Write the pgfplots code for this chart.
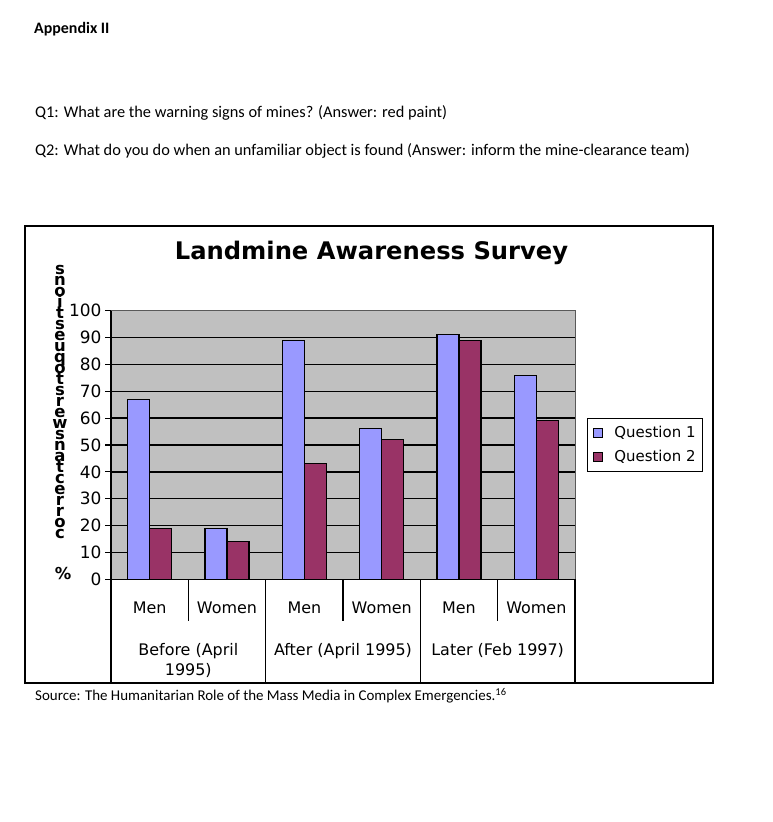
\documentclass[border=0pt]{standalone}
\usepackage{fontspec}
\setmainfont{Carlito}
\newfontfamily\verd{DejaVu Sans}
\usepackage{pgfplots}
\pgfplotsset{compat=1.18}
\definecolor{qone}{HTML}{9999FF}
\definecolor{qtwo}{HTML}{993366}
\definecolor{plotgray}{HTML}{C0C0C0}
\begin{document}
\begin{tikzpicture}[x=1bp,y=1bp]
\useasboundingbox (0,0) rectangle (773,822);
\fill[white] (0,0) rectangle (773,822);
\node[anchor=base west, inner sep=0, font=\fontsize{16}{18}\selectfont\bfseries] at (34,788.7) {Appendix II};
\node[anchor=base west, inner sep=0, font=\fontsize{16.4}{19}\selectfont] at (35,704.5) {Q1: What are the warning signs of mines? (Answer: red paint)};
\node[anchor=base west, inner sep=0, font=\fontsize{16.4}{19}\selectfont] at (35,666) {Q2: What do you do when an unfamiliar object is found (Answer: inform the mine-clearance team)};
\node[anchor=base west, inner sep=0, font=\fontsize{15}{17}\selectfont] at (35,121) {Source: The Humanitarian Role of the Mass Media in Complex Emergencies.\textsuperscript{16}};
\draw[line width=1.5bp] (25,139) rectangle (713,596);
\node[font=\verd\bfseries\fontsize{24.3}{27}\selectfont] at (371.5,569) {Landmine Awareness Survey};
\foreach \c [count=\i] in {s,n,o,i,t,s,e,u,q,o,t,s,r,e,w,s,n,a,t,c,e,r,r,o,c}
  \node[anchor=base, inner sep=0, font=\verd\bfseries\fontsize{16.5}{18}\selectfont] at (60,{547-11*(\i-1)}) {\c};
\node[anchor=base, inner sep=0, font=\verd\bfseries\fontsize{16.5}{18}\selectfont] at (63,242) {\%};
\begin{axis}[
  scale only axis, width=464bp, height=268.6bp,
  at={(111bp,242.7bp)}, anchor=south west,
  ybar, bar width=22bp,
  xmin=-0.5, xmax=5.5, ymin=0, ymax=100,
  ytick={0,10,...,90},
  extra y ticks={100},
  extra y tick style={grid=none},
  xtick={0,...,5},
  xticklabels={Men,Women,Men,Women,Men,Women},
  xtick style={draw=none},
  ytick style={black, line width=1.2bp},
  ytick pos=left,
  tick align=outside, major tick length=6bp,
  ymajorgrids, grid style={black, line width=1.5bp},
  axis background/.style={fill=plotgray},
  axis line style={draw=gray!70!black, line width=1bp},
  /pgf/number format/assume math mode=true,
  yticklabel style={font=\verd\fontsize{17}{20}\selectfont},
  xticklabel style={font=\verd\fontsize{16}{19}\selectfont, anchor=base, yshift=-28bp},
  clip=false,
  legend style={at={(1.0259,0.6005)}, anchor=north west, draw=black, line width=1.2bp,
    font=\verd\fontsize{15}{18}\selectfont, inner xsep=5bp, inner ysep=6bp, row sep=7bp},
  legend cell align=left,
  legend image code/.code={\draw[#1, line width=0.8bp] (0bp,-4.5bp) rectangle (9bp,4.5bp);},
]
\addplot[fill=qone, draw=black, line width=1.2bp, bar shift=-11bp] coordinates {(0,67) (1,19) (2,89) (3,56) (4,91) (5,76)};
\addplot[fill=qtwo, draw=black, line width=1.2bp, bar shift=11bp] coordinates {(0,19) (1,14) (2,43) (3,52) (4,89) (5,59)};
\legend{\hspace{10bp}Question 1\hspace{14bp}, \hspace{10bp}Question 2\hspace{14bp}}
\draw[black, line width=1.5bp] (axis cs:-0.5,100) -- (axis cs:-0.5,0) -- (axis cs:5.5,0);
\draw[black, line width=1.2bp] (axis cs:0.5,0) -- ++(0bp,-42bp);
\draw[black, line width=1.2bp] (axis cs:2.5,0) -- ++(0bp,-42bp);
\draw[black, line width=1.2bp] (axis cs:4.5,0) -- ++(0bp,-42bp);
\draw[black, line width=1.2bp] (axis cs:-0.5,0) -- ++(0bp,-103.7bp);
\draw[black, line width=1.2bp] (axis cs:1.5,0) -- ++(0bp,-103.7bp);
\draw[black, line width=1.2bp] (axis cs:3.5,0) -- ++(0bp,-103.7bp);
\draw[black, line width=1.2bp] (axis cs:5.5,0) -- ++(0bp,-103.7bp);
\node[anchor=base, font=\verd\fontsize{16}{19}\selectfont, inner sep=0] at (axis cs:0.5,0) [yshift=-76.7bp] {Before (April};
\node[anchor=base, font=\verd\fontsize{16}{19}\selectfont, inner sep=0] at (axis cs:0.5,0) [yshift=-96.7bp] {1995)};
\node[anchor=base, font=\verd\fontsize{16}{19}\selectfont, inner sep=0] at (axis cs:2.5,0) [yshift=-76.7bp] {After (April 1995)};
\node[anchor=base, font=\verd\fontsize{16}{19}\selectfont, inner sep=0] at (axis cs:4.5,0) [yshift=-76.7bp] {Later (Feb 1997)};
\end{axis}
\end{tikzpicture}
\end{document}
